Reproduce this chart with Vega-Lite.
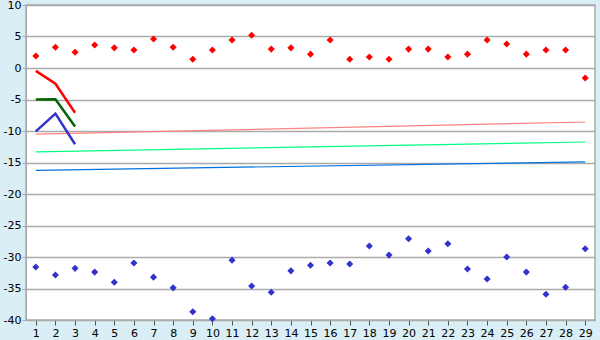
{
  "$schema": "https://vega.github.io/schema/vega-lite/v6.json",
  "width": 569,
  "height": 315,
  "autosize": "none",
  "padding": {"left": 26, "top": 5, "right": 5, "bottom": 20},
  "background": "#D9EEF5",
  "config": {
    "view": {"fill": "white", "stroke": "#AAAAAA", "strokeWidth": 1.5},
    "font": "DejaVu Sans"
  },
  "datasets": {
    "high": [
      {"d": 1, "v": 1.9}, {"d": 2, "v": 3.3}, {"d": 3, "v": 2.5}, {"d": 4, "v": 3.65}, {"d": 5, "v": 3.2},
      {"d": 6, "v": 2.85}, {"d": 7, "v": 4.6}, {"d": 8, "v": 3.3}, {"d": 9, "v": 1.4}, {"d": 10, "v": 2.85},
      {"d": 11, "v": 4.45}, {"d": 12, "v": 5.2}, {"d": 13, "v": 3.0}, {"d": 14, "v": 3.2}, {"d": 15, "v": 2.2},
      {"d": 16, "v": 4.45}, {"d": 17, "v": 1.4}, {"d": 18, "v": 1.75}, {"d": 19, "v": 1.4}, {"d": 20, "v": 3.0},
      {"d": 21, "v": 3.0}, {"d": 22, "v": 1.75}, {"d": 23, "v": 2.2}, {"d": 24, "v": 4.45}, {"d": 25, "v": 3.8},
      {"d": 26, "v": 2.2}, {"d": 27, "v": 2.85}, {"d": 28, "v": 2.85}, {"d": 29, "v": -1.6}
    ],
    "low": [
      {"d": 1, "v": -31.6}, {"d": 2, "v": -32.85}, {"d": 3, "v": -31.8}, {"d": 4, "v": -32.4}, {"d": 5, "v": -34.0},
      {"d": 6, "v": -30.95}, {"d": 7, "v": -33.2}, {"d": 8, "v": -34.9}, {"d": 9, "v": -38.7}, {"d": 10, "v": -39.8},
      {"d": 11, "v": -30.5}, {"d": 12, "v": -34.6}, {"d": 13, "v": -35.6}, {"d": 14, "v": -32.2}, {"d": 15, "v": -31.3},
      {"d": 16, "v": -30.95}, {"d": 17, "v": -31.1}, {"d": 18, "v": -28.25}, {"d": 19, "v": -29.7}, {"d": 20, "v": -27.1},
      {"d": 21, "v": -29.05}, {"d": 22, "v": -27.9}, {"d": 23, "v": -31.9}, {"d": 24, "v": -33.5}, {"d": 25, "v": -30.0},
      {"d": 26, "v": -32.4}, {"d": 27, "v": -35.9}, {"d": 28, "v": -34.8}, {"d": 29, "v": -28.7}
    ],
    "thick": [
      {"d": 1, "v": -0.45, "s": "red"}, {"d": 2, "v": -2.5, "s": "red"}, {"d": 3, "v": -7.1, "s": "red"},
      {"d": 1, "v": -5.0, "s": "green"}, {"d": 2, "v": -4.95, "s": "green"}, {"d": 3, "v": -9.3, "s": "green"},
      {"d": 1, "v": -10.05, "s": "blue"}, {"d": 2, "v": -7.25, "s": "blue"}, {"d": 3, "v": -12.1, "s": "blue"}
    ],
    "thin": [
      {"d": 1, "v": -10.5, "s": "pink"}, {"d": 29, "v": -8.57, "s": "pink"},
      {"d": 1, "v": -13.3, "s": "lime"}, {"d": 29, "v": -11.75, "s": "lime"},
      {"d": 1, "v": -16.25, "s": "sky"}, {"d": 29, "v": -14.9, "s": "sky"}
    ]
  },
  "encoding": {
    "x": {
      "field": "d", "type": "ordinal",
      "scale": {"type": "point", "padding": 0.5, "domain": [1,2,3,4,5,6,7,8,9,10,11,12,13,14,15,16,17,18,19,20,21,22,23,24,25,26,27,28,29]},
      "axis": {"title": null, "labelAngle": 0, "labelFontSize": 11, "labelColor": "#000000", "domainColor": "#AAAAAA", "tickColor": "#555555", "tickSize": 5, "labelPadding": 2, "grid": false}
    },
    "y": {
      "field": "v", "type": "quantitative",
      "scale": {"domain": [-40, 10], "nice": false},
      "axis": {"title": null, "values": [-40,-35,-30,-25,-20,-15,-10,-5,0,5,10], "labelExpr": "'' + datum.value", "labelFontSize": 11, "labelColor": "#000000", "domainColor": "#AAAAAA", "tickColor": "#AAAAAA", "tickSize": 4, "labelPadding": 1, "grid": true, "gridColor": "#AAAAAA", "gridWidth": 1.5}
    }
  },
  "layer": [
    {
      "data": {"name": "thin"},
      "mark": {"type": "line", "strokeWidth": 1.2},
      "encoding": {
        "color": {"field": "s", "type": "nominal", "legend": null,
          "scale": {"domain": ["pink", "lime", "sky"], "range": ["#FF8080", "#00FF80", "#0070E0"]}},
        "detail": {"field": "s"}
      }
    },
    {
      "data": {"name": "thick"},
      "mark": {"type": "line", "strokeWidth": 2.5},
      "encoding": {
        "stroke": {"field": "s", "type": "nominal", "legend": null,
          "scale": {"domain": ["red", "green", "blue"], "range": ["#FF0000", "#006400", "#3333CC"]}}
      }
    },
    {
      "data": {"name": "high"},
      "mark": {"type": "point", "shape": "diamond", "filled": true, "size": 50, "color": "#FF0000", "opacity": 1}
    },
    {
      "data": {"name": "low"},
      "mark": {"type": "point", "shape": "diamond", "filled": true, "size": 50, "color": "#3333CC", "opacity": 1}
    }
  ]
}
